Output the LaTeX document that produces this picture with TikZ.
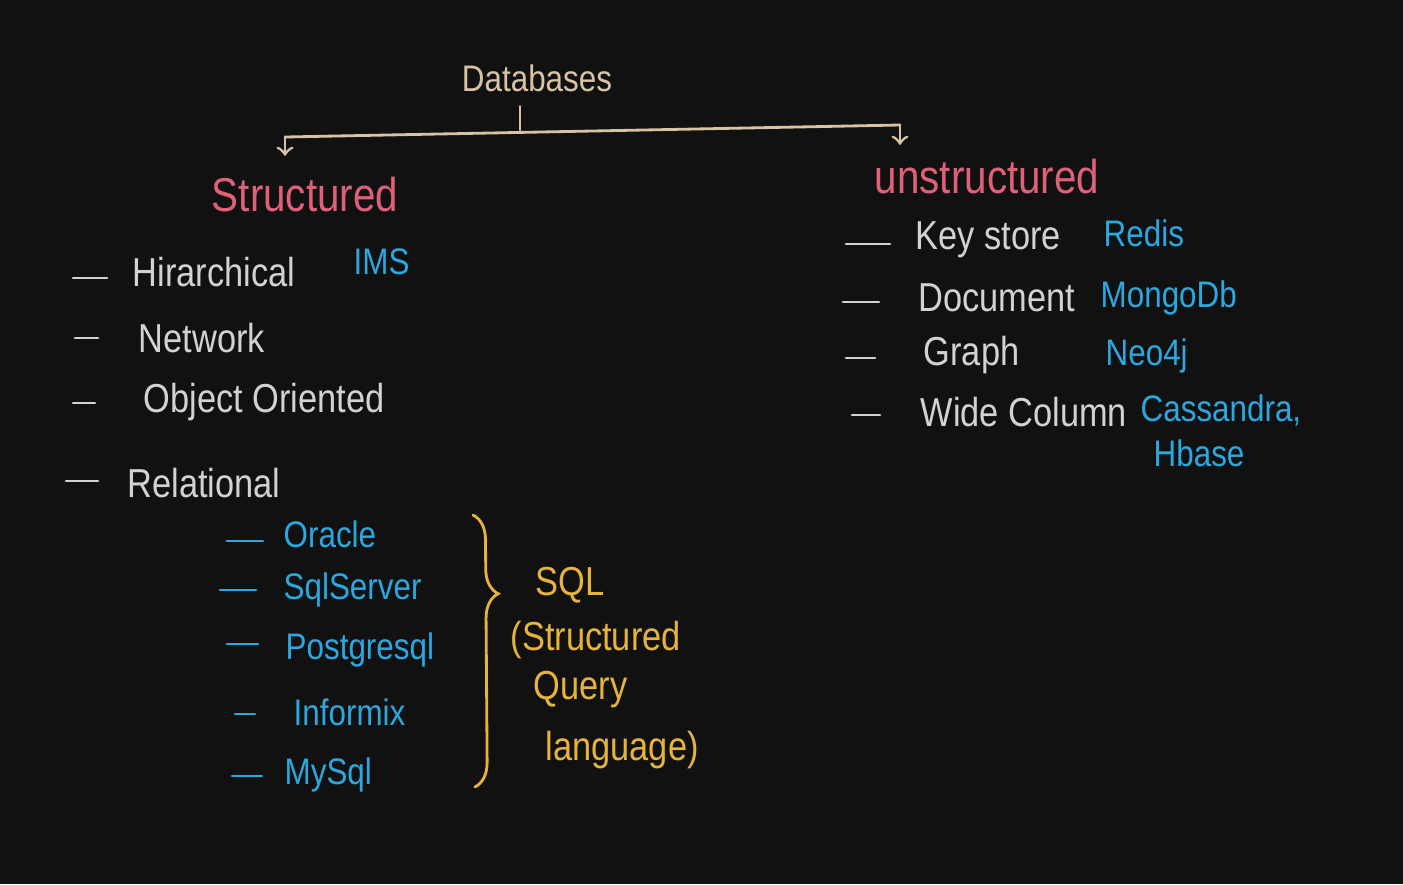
\documentclass[tikz,border=0pt]{standalone}
\usepackage{fontspec}
\setmainfont[FakeStretch=0.85]{Liberation Sans}
\usetikzlibrary{positioning}
\usetikzlibrary{calc}
\usetikzlibrary{arrows,decorations.pathreplacing}

\definecolor{board}{HTML}{111111}
\definecolor{chalk}{HTML}{D2D2D2}
\definecolor{sand}{HTML}{D8C3A5}
\definecolor{rose}{HTML}{E0607A}
\definecolor{sky}{HTML}{2AA8E0}
\definecolor{gold}{HTML}{E6B43A}

\begin{document}
\begin{tikzpicture}[x=0.01cm,y=-0.01cm,
  lbl/.style={inner sep=0pt,anchor=west},
  item/.style={lbl,text=chalk,font=\fontsize{11.5}{14}\selectfont},
  prod/.style={lbl,text=sky,font=\fontsize{10.5}{13}\selectfont},
  group/.style={inner sep=0pt,text=rose,font=\fontsize{13.5}{16}\selectfont},
  sqlnote/.style={lbl,text=gold,font=\fontsize{11.5}{14}\selectfont},
  stroke/.style={line width=.8pt,line cap=round}]

\fill[board] (0,0) rectangle (1403,884);

% top
\node[inner sep=0pt,text=sand,font=\fontsize{10.5}{13}\selectfont] (db) at (537,78) {Databases};
\node[group] (st) at (305,195) {Structured};
\node[group] (ust) at (987,177) {unstructured};

\coordinate (fork) at (520,130);
\coordinate (lend) at (285,137);
\coordinate (rend) at (900,125);

\draw[stroke,sand,shorten <=4pt] (db.south -| fork) -- (fork);
\draw[stroke,sand] (lend) -- (rend);
\draw[stroke,sand,->,shorten >=6pt] (lend) -- (lend |- st.north);
\draw[stroke,sand,->,shorten >=4pt] (rend) -- (rend |- ust.north);

% structured kinds
\node[item] (hier) at (132,272) {Hirarchical};
\node[item] (net)  at (138,338) {Network};
\node[item] (obj)  at (143,402) {Object Oriented};
\node[item] (rel)  at (127,483) {Relational};
\node[prod] (ims)  at (353,262) {IMS};

% relational products
\node[prod] (oracle)   at (283,534) {Oracle};
\node[prod] (sqlsrv)   at (283,590) {SqlServer};
\node[prod] (pg)       at (285,650) {Postgresql};
\node[prod] (informix) at (293,712) {Informix};
\node[prod] (mysql)    at (284,775) {MySql};

% unstructured kinds
\node[item] (key)   at (915,240) {Key store};
\node[item] (doc)   at (918,298) {Document};
\node[item] (graph) at (923,355) {Graph};
\node[item] (wide)  at (920,412) {Wide Column};

\node[prod] (redis) at (1103,233) {Redis};
\node[prod] (mongo) at (1100,298) {MongoDb};
\node[prod] (neo)   at (1105,356) {Neo4j};
\node[prod] (cass)  at (1140,410) {Cassandra,};
\node[prod] (hbase) at (1153,453) {Hbase};

% bullets
\foreach \n/\g/\d/\l in {hier/25/6/34,net/40/0/23,obj/48/1/22,rel/29/-2/32,
                         key/25/4/44,doc/39/4/36,graph/48/3/29,wide/40/3/28}
  \draw[stroke,chalk] (\n.west) ++(-\g,\d) -- ++(-\l,0);

\foreach \n/\g/\d/\l in {oracle/20/7/36,sqlsrv/27/0/36,pg/27/-6/31,
                         informix/38/2/20,mysql/22/1/30}
  \draw[stroke,sky] (\n.west) ++(-\g,\d) -- ++(-\l,0);

% sql brace
\coordinate (btop) at (473,515);
\coordinate (bbot) at (475,787);
\draw[stroke,gold,decorate,decoration={brace,amplitude=7pt,aspect=.29}] (btop) -- (bbot);

\node[sqlnote] (sql)   at (535,585) {SQL};
\node[sqlnote] (sqla)  at (510,640) {(Structured};
\node[sqlnote] (sqlb)  at (533,690) {Query};
\node[sqlnote] (sqlc)  at (545,750) {language)};

\end{tikzpicture}
\end{document}
